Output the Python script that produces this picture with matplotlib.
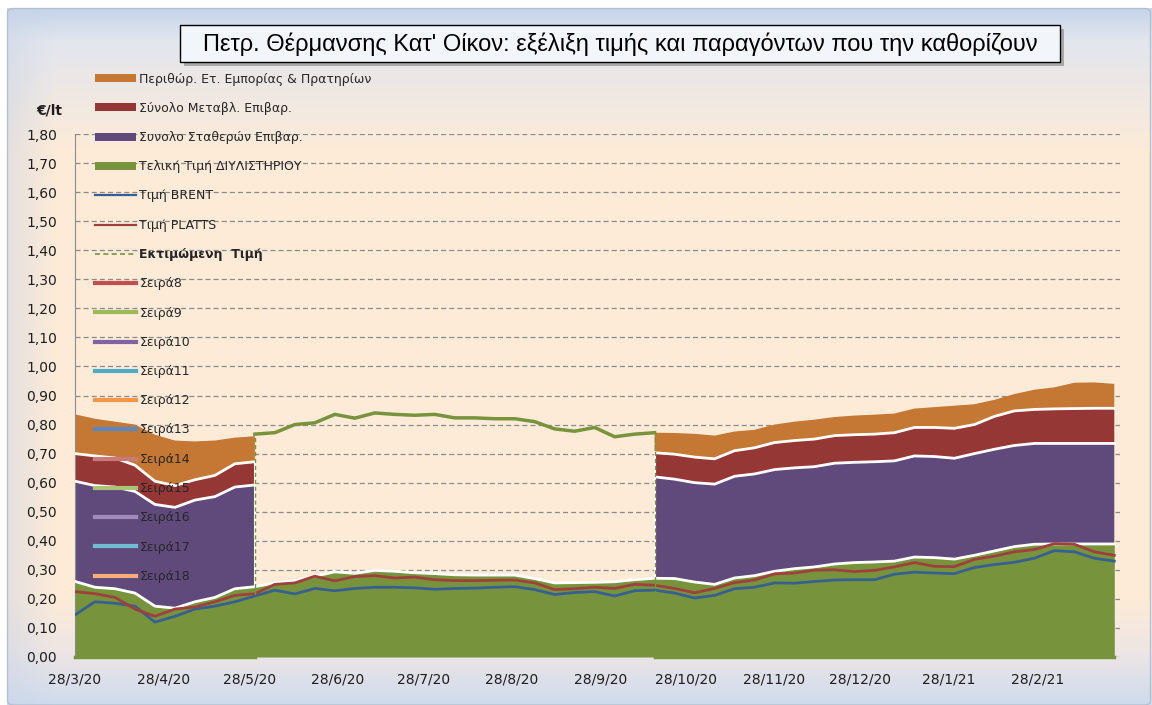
import numpy as np
import pandas as pd
import matplotlib
matplotlib.use("Agg")
import matplotlib.pyplot as plt
from matplotlib.patches import Patch, Rectangle, FancyBboxPatch
from matplotlib.lines import Line2D
from matplotlib.ticker import FuncFormatter

plt.rcParams['font.family'] = ['DejaVu Sans']

# weekly readings, 28/3/20 .. 27/3/21
weeks = pd.date_range('2020-03-28', periods=53, freq='7D')

gap = [np.nan] * 19   # weeks with no breakdown (only refinery price + estimate)

refinery = [0.26, 0.24, 0.235, 0.22, 0.175, 0.168, 0.19, 0.205, 0.235, 0.242,
            0.255, 0.262, 0.278, 0.293, 0.288, 0.298, 0.295, 0.29, 0.287, 0.283,
            0.282, 0.282, 0.282, 0.27, 0.255, 0.256, 0.257, 0.259, 0.266,
            0.271, 0.27, 0.258, 0.25, 0.272, 0.28, 0.295, 0.304, 0.31, 0.32, 0.325, 0.327,
            0.33, 0.344, 0.342, 0.337, 0.35, 0.365, 0.38, 0.388, 0.389, 0.389, 0.389, 0.389]

fixed_tax = ([0.345, 0.35, 0.35, 0.35, 0.35, 0.347, 0.35, 0.347, 0.35, 0.35] + gap +
             [0.349, 0.342, 0.342, 0.345, 0.35, 0.35, 0.35, 0.347, 0.345, 0.347, 0.345, 0.345,
              0.345, 0.348, 0.348, 0.347, 0.35, 0.35, 0.348, 0.347, 0.346, 0.346, 0.346, 0.346])

var_tax = ([0.095, 0.102, 0.10, 0.09, 0.08, 0.075, 0.07, 0.073, 0.08, 0.08] + gap +
           [0.083, 0.086, 0.088, 0.087, 0.088, 0.09, 0.093, 0.094, 0.095, 0.095, 0.095, 0.095,
            0.097, 0.098, 0.10, 0.103, 0.10, 0.113, 0.119, 0.117, 0.119, 0.12, 0.121, 0.121])

margin = ([0.135, 0.128, 0.125, 0.14, 0.16, 0.155, 0.132, 0.12, 0.09, 0.088] + gap +
          [0.069, 0.073, 0.08, 0.08, 0.066, 0.062, 0.062, 0.065, 0.067, 0.064, 0.066, 0.067,
           0.066, 0.065, 0.07, 0.078, 0.07, 0.057, 0.058, 0.068, 0.074, 0.089, 0.089, 0.084])

brent = [0.145, 0.19, 0.185, 0.175, 0.12, 0.14, 0.165, 0.175, 0.19, 0.21,
         0.23, 0.217, 0.236, 0.228, 0.236, 0.24, 0.24, 0.238, 0.233, 0.236,
         0.237, 0.24, 0.242, 0.232, 0.215, 0.222, 0.225, 0.21, 0.228,
         0.23, 0.22, 0.203, 0.212, 0.235, 0.24, 0.255, 0.254, 0.26, 0.265, 0.266, 0.266,
         0.285, 0.292, 0.289, 0.287, 0.308, 0.318, 0.326, 0.34, 0.366, 0.362, 0.34, 0.33]

platts = [0.225, 0.218, 0.205, 0.165, 0.14, 0.165, 0.172, 0.19, 0.212, 0.218,
          0.25, 0.255, 0.278, 0.262, 0.277, 0.28, 0.272, 0.275, 0.266, 0.263,
          0.263, 0.264, 0.265, 0.255, 0.232, 0.235, 0.24, 0.236, 0.25,
          0.247, 0.236, 0.221, 0.236, 0.256, 0.265, 0.286, 0.289, 0.299, 0.30, 0.294, 0.298,
          0.31, 0.325, 0.312, 0.311, 0.336, 0.347, 0.362, 0.37, 0.39, 0.388, 0.362, 0.35]

estimated = ([0.0] * 9 +
             [0.767, 0.772, 0.80, 0.806, 0.835, 0.822, 0.84, 0.835, 0.832, 0.835, 0.823,
              0.823, 0.82, 0.82, 0.81, 0.785, 0.777, 0.79, 0.758, 0.767, 0.772] +
             [0.0] * 23)

tick_labels = ['28/3/20', '28/4/20', '28/5/20', '28/6/20', '28/7/20', '28/8/20',
               '28/9/20', '28/10/20', '28/11/20', '28/12/20', '28/1/21', '28/2/21']

title = "Πετρ. Θέρμανσης Κατ' Οίκον: εξέλιξη τιμής και παραγόντων που την καθορίζουν"

c_margin = '#C47834'
c_var = '#953735'
c_fixed = '#604A7B'
c_ref = '#77933C'
c_brent = '#376092'
c_platts = '#A0403C'

W, H = 1152, 705
fig = plt.figure(figsize=(W / 100, H / 100), dpi=100)
fig.patch.set_facecolor('white')

# background gradient of the chart frame
bg = fig.add_axes([7 / W, 0, (W - 7) / W, (H - 8) / H], zorder=-10)
ys = np.arange(8, H)
stops_y = [8, 40, 150, 600, 650, 705]
stops_c = np.array([[196, 212, 234], [226, 230, 238], [253, 235, 216],
                    [253, 235, 216], [238, 230, 228], [206, 219, 238]]) / 255
col = np.stack([np.interp(ys, stops_y, stops_c[:, i]) for i in range(3)], axis=1)
img = np.repeat(col[:, None, :], 200, axis=1)
xs = np.linspace(0, 1, 200)
wl = np.clip(1 - xs / 0.04, 0, 1)[None, :, None] * 0.45
img = img * (1 - wl) + np.array([200, 212, 230])[None, None, :] / 255 * wl
bg.imshow(img, aspect='auto', extent=[0, 1, 0, 1], interpolation='bilinear')
bg.axis('off')
fig.add_artist(FancyBboxPatch((7.5 / W, 0), (W - 9) / W, (H - 8.5) / H,
                              boxstyle='round,pad=0,rounding_size=0.006',
                              transform=fig.transFigure, facecolor='none',
                              edgecolor='#B4C0D0', lw=1))

ax = fig.add_axes([75 / W, 48 / H, 1045 / W, 523 / H])
ax.patch.set_alpha(0)

ref = np.array(refinery)
fx = np.array(fixed_tax, dtype=float)
vt = np.array(var_tax, dtype=float)
mg = np.array(margin, dtype=float)
est = np.array(estimated)

ax.fill_between(weeks, 0, ref, color=c_ref, lw=0, zorder=2)
ax.fill_between(weeks, ref, ref + fx, color=c_fixed, lw=0, zorder=2)
ax.fill_between(weeks, ref + fx, ref + fx + vt, color=c_var, lw=0, zorder=2)
ax.fill_between(weeks, ref + fx + vt, ref + fx + vt + mg, color=c_margin, lw=0, zorder=2)
for top in [ref, ref + fx, ref + fx + vt]:
    ax.plot(weeks, top, color='white', lw=2, zorder=3)
seg = ~np.isnan(fx)
for i in [np.argmax(seg[10:]) + 10, np.argmin(seg) - 1]:
    ax.plot([weeks[i], weeks[i]], [ref[i], ref[i] + fx[i] + vt[i]], color='white', lw=1.5, zorder=3)

ax.plot(weeks, brent, color=c_brent, lw=2, zorder=4)
ax.plot(weeks, platts, color=c_platts, lw=2, zorder=4)

# estimated price: values in the gap, zero elsewhere
on = est > 0
ax.plot(weeks[on], est[on], color=c_ref, lw=2.5, zorder=4)
ax.plot(weeks, np.where(seg, 0.0, np.nan), color=c_ref, lw=2.5, zorder=4, clip_on=False)
for i in [np.argmax(on), len(on) - 1 - np.argmax(on[::-1])]:
    ax.plot([weeks[i], weeks[i]], [0, est[i]], color=c_ref, lw=1,
            linestyle=(0, (3, 2)), zorder=4)

ax.set_ylim(0, 1.8)
ax.set_xlim(weeks[0], weeks[-1] + pd.Timedelta(days=2))
ax.set_yticks(np.arange(0, 1.81, 0.1))
ax.yaxis.set_major_formatter(FuncFormatter(lambda v, p: f'{v:.2f}'.replace('.', ',')))
ax.set_xticks(pd.to_datetime(tick_labels, format='%d/%m/%y'))
ax.set_xticklabels(tick_labels)
ax.tick_params(length=0, labelsize=10, labelcolor='#1e1e1e')
ax.tick_params(axis='y', pad=13)
ax.tick_params(axis='x', pad=11)
ax.set_axisbelow(True)
ax.yaxis.grid(True, color='#8a8a8a', lw=0.9, linestyle=(0, (4, 2.5)))
for s in ['top', 'right', 'bottom']:
    ax.spines[s].set_visible(False)
ax.spines['left'].set_color('#8c8c8c')

fig.text(62 / W, 1 - 110 / H, '€/lt', ha='right', va='center', fontsize=10,
         fontweight='bold', color='#1e1e1e')

# title box with shadow
fig.add_artist(Rectangle((184 / W, 1 - 66 / H), 880 / W, 37 / H, transform=fig.transFigure,
                         facecolor='#7f7f7f', edgecolor='none', alpha=0.6))
fig.add_artist(Rectangle((180 / W, 1 - 62 / H), 880 / W, 37 / H, transform=fig.transFigure,
                         facecolor='#F2F5FA', edgecolor='black', lw=1))
fig.text(620 / W, 1 - 44 / H, title, ha='center', va='center', fontsize=17,
         family=['Liberation Sans', 'DejaVu Sans'], color='black')

handles = [
    Patch(facecolor=c_margin, label='Περιθώρ. Ετ. Εμπορίας & Πρατηρίων'),
    Patch(facecolor=c_var, label='Σύνολο Μεταβλ. Επιβαρ.'),
    Patch(facecolor=c_fixed, label='Συνολο Σταθερών Επιβαρ.'),
    Patch(facecolor=c_ref, label='Τελική Τιμή ΔΙΥΛΙΣΤΗΡΙΟΥ'),
    Line2D([], [], color=c_brent, lw=1.6, label='Τιμή BRENT'),
    Line2D([], [], color=c_platts, lw=1.6, label='Τιμή PLATTS'),
    Line2D([], [], color=c_ref, lw=1.2, linestyle=(0, (3, 2)), label='Εκτιμώμενη  Τιμή'),
    Line2D([], [], color='#C0504D', lw=3, label='Σειρά8'),
    Line2D([], [], color='#9BBB59', lw=3, label='Σειρά9'),
    Line2D([], [], color='#8064A2', lw=3, label='Σειρά10'),
    Line2D([], [], color='#4BACC6', lw=3, label='Σειρά11'),
    Line2D([], [], color='#F79646', lw=3, label='Σειρά12'),
    Line2D([], [], color='#5B87C0', lw=3, label='Σειρά13'),
    Line2D([], [], color='#C97A78', lw=3, label='Σειρά14'),
    Line2D([], [], color='#A9C476', lw=3, label='Σειρά15'),
    Line2D([], [], color='#9F8AB8', lw=3, label='Σειρά16'),
    Line2D([], [], color='#72BCD2', lw=3, label='Σειρά17'),
    Line2D([], [], color='#F9AD7C', lw=3, label='Σειρά18'),
]
leg = fig.legend(handles=handles, loc='upper left', bbox_to_anchor=(95 / W, 1 - 72.5 / H),
                 bbox_transform=fig.transFigure, frameon=False, fontsize=9,
                 borderpad=0, borderaxespad=0, handlelength=3.3, handleheight=0.62,
                 handletextpad=0.25, labelspacing=1.30)
for t in leg.get_texts():
    t.set_color('#262626')
    if t.get_text().startswith('Εκτιμ'):
        t.set_fontweight('bold')

fig.savefig('out.png', dpi=100)
